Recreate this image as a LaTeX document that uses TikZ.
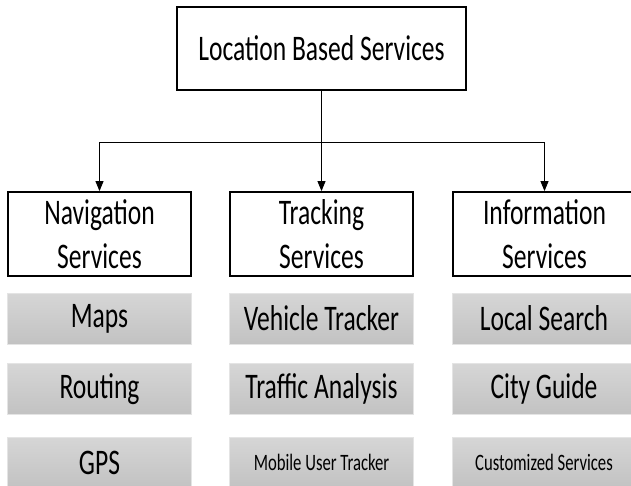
\documentclass[tikz,border=0pt]{standalone}
\usepackage{fontspec}
\setmainfont{Carlito}[FakeStretch=0.71]
\usetikzlibrary{arrows.meta}
\definecolor{gtop}{HTML}{D6D6D6}
\definecolor{gbot}{HTML}{C2C2C2}
\definecolor{gedge}{HTML}{E4E4E4}
\tikzset{
  topbox/.style={draw=black, line width=1.8pt, minimum width=289pt, minimum height=83pt,
    inner sep=0pt, font=\fontsize{36}{43}\selectfont},
  catbox/.style={draw=black, line width=1.8pt, minimum width=183pt, minimum height=84pt,
    inner sep=0pt, align=center, font=\fontsize{36}{44}\selectfont},
  leaf/.style={draw=gedge, line width=0.8pt, top color=gtop, bottom color=gbot,
    minimum width=184pt, minimum height=51pt, inner sep=0pt,
    font=\fontsize{36}{40}\selectfont},
  smallleaf/.style={leaf, font=\fontsize{23.5}{27}\selectfont},
  link/.style={draw=black, line width=0.9pt},
  arrowlink/.style={link, -{Triangle[width=8pt,length=10pt]}}
}
\begin{document}
\begin{tikzpicture}[x=1pt, y=-1pt]
  \useasboundingbox (0,0) rectangle (631,485);
  \clip (0,0) rectangle (631,485);
  \fill[white] (0,0) rectangle (631,485);

  % root
  \node[topbox] (root) at (321.5,48.5) {Location Based Services};

  % categories
  \node[catbox] (nav) at (99.5,234) {Navigation\\Services};
  \node[catbox] (trk) at (321.5,234) {Tracking\\Services};
  \node[catbox] (inf) at (544.5,234) {Information\\Services};

  % branching
  \coordinate (split) at (321.5,142);
  \draw[link] (root) -- (split);
  \draw[arrowlink] (split) -| (nav);
  \draw[arrowlink] (split) -- (trk);
  \draw[arrowlink] (split) -| (inf);

  % navigation services
  \node[leaf] (maps) at (99.5,318.5) {Maps};
  \node[leaf] (routing) at (99.5,389) {Routing};
  \node[leaf] (gps) at (99.5,462.5) {GPS};

  % tracking services
  \node[leaf] (vehicle) at (321.5,318.5) {Vehicle Tracker};
  \node[leaf] (traffic) at (321.5,389) {Traffic Analysis};
  \node[smallleaf] (mobile) at (321.5,462.5) {Mobile User Tracker};

  % information services
  \node[leaf] (local) at (544,318.5) {Local Search};
  \node[leaf] (city) at (544,389) {City Guide};
  \node[smallleaf] (custom) at (544,462.5) {Customized Services};
\end{tikzpicture}
\end{document}
